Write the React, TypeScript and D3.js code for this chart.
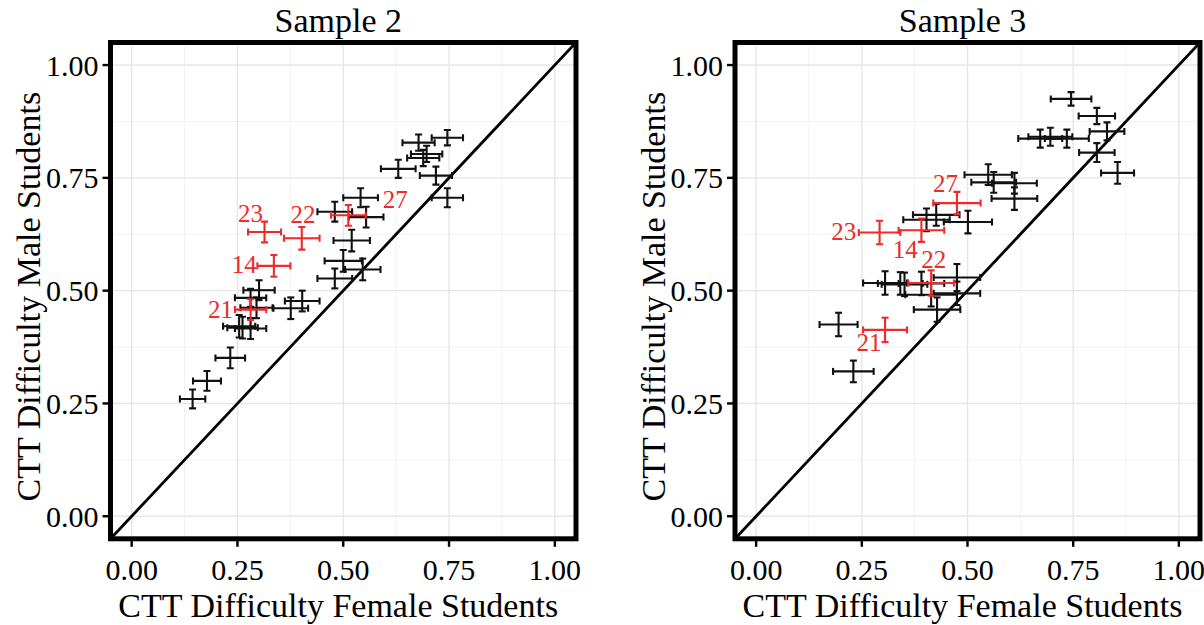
import React from "react";
import * as d3 from "d3";

// Sample 2 (left panel)
const s2Black: [number, number, number, number][] = [
  [0.746, 0.839, 0.037, 0.017],
  [0.678, 0.828, 0.038, 0.018],
  [0.697, 0.803, 0.037, 0.018],
  [0.689, 0.794, 0.038, 0.018],
  [0.630, 0.770, 0.041, 0.020],
  [0.719, 0.755, 0.038, 0.020],
  [0.746, 0.706, 0.037, 0.021],
  [0.541, 0.706, 0.041, 0.021],
  [0.480, 0.675, 0.041, 0.022],
  [0.554, 0.663, 0.041, 0.023],
  [0.520, 0.611, 0.043, 0.024],
  [0.500, 0.566, 0.044, 0.024],
  [0.546, 0.547, 0.042, 0.024],
  [0.480, 0.527, 0.041, 0.022],
  [0.301, 0.501, 0.037, 0.022],
  [0.403, 0.477, 0.041, 0.023],
  [0.376, 0.461, 0.041, 0.024],
  [0.281, 0.484, 0.037, 0.020],
  [0.295, 0.462, 0.038, 0.023],
  [0.254, 0.421, 0.038, 0.025],
  [0.262, 0.418, 0.036, 0.024],
  [0.281, 0.416, 0.037, 0.023],
  [0.233, 0.351, 0.035, 0.023],
  [0.178, 0.300, 0.033, 0.022],
  [0.144, 0.260, 0.030, 0.021],
];
const s2Red: [number, number, number, number][] = [
  [0.512, 0.667, 0.041, 0.023],
  [0.402, 0.616, 0.042, 0.025],
  [0.314, 0.630, 0.039, 0.023],
  [0.336, 0.555, 0.039, 0.024],
  [0.281, 0.458, 0.037, 0.023],
];
const s2Labels: [string, number, number][] = [
  ["27", 0.623, 0.702],
  ["22", 0.405, 0.669],
  ["23", 0.281, 0.672],
  ["14", 0.266, 0.558],
  ["21", 0.210, 0.459],
];

// Sample 3 (right panel)
const s3Black: [number, number, number, number][] = [
  [0.745, 0.925, 0.048, 0.015],
  [0.806, 0.887, 0.043, 0.018],
  [0.830, 0.853, 0.041, 0.020],
  [0.672, 0.837, 0.052, 0.020],
  [0.696, 0.841, 0.052, 0.020],
  [0.735, 0.837, 0.052, 0.020],
  [0.806, 0.806, 0.042, 0.021],
  [0.855, 0.761, 0.039, 0.024],
  [0.549, 0.757, 0.056, 0.023],
  [0.562, 0.740, 0.053, 0.023],
  [0.611, 0.738, 0.053, 0.023],
  [0.611, 0.704, 0.054, 0.025],
  [0.426, 0.668, 0.055, 0.024],
  [0.403, 0.657, 0.055, 0.025],
  [0.501, 0.652, 0.057, 0.025],
  [0.305, 0.517, 0.052, 0.026],
  [0.341, 0.516, 0.053, 0.025],
  [0.351, 0.514, 0.054, 0.026],
  [0.391, 0.516, 0.054, 0.026],
  [0.475, 0.529, 0.055, 0.030],
  [0.414, 0.491, 0.061, 0.026],
  [0.475, 0.494, 0.055, 0.026],
  [0.428, 0.458, 0.055, 0.027],
  [0.195, 0.425, 0.045, 0.026],
  [0.230, 0.321, 0.048, 0.024],
];
const s3Red: [number, number, number, number][] = [
  [0.475, 0.694, 0.056, 0.025],
  [0.292, 0.629, 0.049, 0.026],
  [0.391, 0.634, 0.054, 0.026],
  [0.414, 0.517, 0.054, 0.028],
  [0.305, 0.413, 0.052, 0.027],
];
const s3Labels: [string, number, number][] = [
  ["27", 0.448, 0.737],
  ["23", 0.207, 0.631],
  ["14", 0.353, 0.591],
  ["22", 0.420, 0.569],
  ["21", 0.267, 0.384],
];

const ticks = [0, 0.25, 0.5, 0.75, 1.0];
const minorTicks = [0.125, 0.375, 0.625, 0.875];
const titles = ["Sample 2", "Sample 3"];
const xTitle = "CTT Difficulty Female Students";
const yTitle = "CTT Difficulty Male Students";

const FONT = "'Liberation Serif', 'Times New Roman', serif";
const RED = "#EE2A2A";

type Pt = [number, number, number, number];

function Panel(props: {
  left: number; right: number; top: number; bottom: number;
  title: string; black: Pt[]; red: Pt[]; labels: [string, number, number][];
}) {
  const { left, right, top, bottom, title, black, red, labels } = props;
  const x = d3.scaleLinear().domain([-0.05, 1.05]).range([left, right]);
  const y = d3.scaleLinear().domain([-0.05, 1.05]).range([bottom, top]);
  const cx = (left + right) / 2 - 5;
  const cy = (top + bottom) / 2;
  const cap = 3.5;
  const bars = (pts: Pt[], color: string) =>
    pts.map((p, i) => {
      const [px, py, ex, ey] = p;
      const x0 = x(px - ex), x1 = x(px + ex), xc = x(px);
      const y0 = y(py - ey), y1 = y(py + ey), yc = y(py);
      return (
        <g key={color + i} stroke={color} strokeWidth={2.1} fill="none">
          <line x1={x0} x2={x1} y1={yc} y2={yc} />
          <line x1={x0} x2={x0} y1={yc - cap} y2={yc + cap} />
          <line x1={x1} x2={x1} y1={yc - cap} y2={yc + cap} />
          <line x1={xc} x2={xc} y1={y0} y2={y1} />
          <line x1={xc - cap} x2={xc + cap} y1={y0} y2={y0} />
          <line x1={xc - cap} x2={xc + cap} y1={y1} y2={y1} />
        </g>
      );
    });
  const clipId = "clip" + Math.round(left);
  return (
    <g>
      <defs>
        <clipPath id={clipId}>
          <rect x={left} y={top} width={right - left} height={bottom - top} />
        </clipPath>
      </defs>
      <rect x={left} y={top} width={right - left} height={bottom - top} fill="#fff" />
      {minorTicks.map((t) => (
        <g key={"m" + t} stroke="#f1f1f1" strokeWidth={0.9}>
          <line x1={x(t)} x2={x(t)} y1={top} y2={bottom} />
          <line x1={left} x2={right} y1={y(t)} y2={y(t)} />
        </g>
      ))}
      {ticks.map((t) => (
        <g key={"g" + t} stroke="#e6e6e6" strokeWidth={1.4}>
          <line x1={x(t)} x2={x(t)} y1={top} y2={bottom} />
          <line x1={left} x2={right} y1={y(t)} y2={y(t)} />
        </g>
      ))}
      <g clipPath={`url(#${clipId})`}>
        <line x1={x(-0.05)} y1={y(-0.05)} x2={x(1.05)} y2={y(1.05)} stroke="#000" strokeWidth={2.8} />
        {bars(black, "#111")}
        {bars(red, RED)}
        {labels.map(([t, lx, ly]) => (
          <text key={"l" + t} x={x(lx)} y={y(ly)} fill={RED} fontSize={25} fontFamily={FONT}
            textAnchor="middle" dominantBaseline="central">{t}</text>
        ))}
      </g>
      <rect x={left} y={top} width={right - left} height={bottom - top} fill="none" stroke="#000" strokeWidth={5} />
      {ticks.map((t) => (
        <g key={"t" + t}>
          <line x1={x(t)} x2={x(t)} y1={bottom + 2} y2={bottom + 8} stroke="#000" strokeWidth={2.4} />
          <line x1={left - 8} x2={left - 2} y1={y(t)} y2={y(t)} stroke="#000" strokeWidth={2.4} />
          <text x={x(t)} y={bottom + 31} fontSize={30} fontFamily={FONT} textAnchor="middle"
            dominantBaseline="central" fill="#000">{d3.format(".2f")(t)}</text>
          <text x={left - 12} y={y(t)} fontSize={30} fontFamily={FONT} textAnchor="end"
            dominantBaseline="central" fill="#000">{d3.format(".2f")(t)}</text>
        </g>
      ))}
      <text x={cx} y={20} fontSize={34} fontFamily={FONT} textAnchor="middle" dominantBaseline="central">{title}</text>
      <text x={cx} y={bottom + 67} fontSize={34} fontFamily={FONT} textAnchor="middle" dominantBaseline="central">{xTitle}</text>
      <text transform={`translate(${left - 82},${cy + 6}) rotate(-90)`} fontSize={34} fontFamily={FONT}
        textAnchor="middle" dominantBaseline="central">{yTitle}</text>
    </g>
  );
}

export default function App() {
  const top = 42.5, bottom = 538.8;
  return (
    <svg width={1204} height={625} style={{ position: "absolute", left: 0, top: 0, background: "#fff" }}>
      <rect width={1204} height={625} fill="#fff" />
      <Panel left={110.5} right={576} top={top} bottom={bottom} title={titles[0]}
        black={s2Black} red={s2Red} labels={s2Labels} />
      <Panel left={735} right={1200} top={top} bottom={bottom} title={titles[1]}
        black={s3Black} red={s3Red} labels={s3Labels} />
    </svg>
  );
}
